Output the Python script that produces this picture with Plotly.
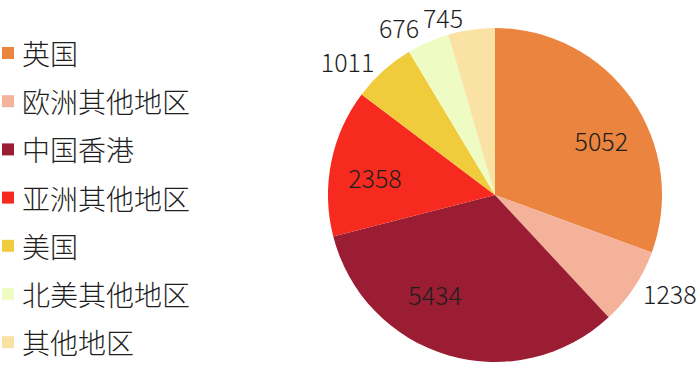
import plotly.graph_objects as go

categories = ["英国", "欧洲其他地区", "中国香港", "亚洲其他地区", "美国", "北美其他地区", "其他地区"]
values = [5052, 1238, 5434, 2358, 1011, 676, 745]
colors = ["#EB843F", "#F4B29B", "#9A1D33", "#F62A1F", "#F0CB3B", "#EEFBC3", "#FAE2A4"]
positions = ["inside", "outside", "inside", "inside", "outside", "outside", "outside"]

FONT = "Noto Sans CJK SC"
W, H = 700, 372
T, B = 28, 10
PH = H - T - B
CX, CY, R = 495, 195, 167          # pie centre / radius in pixels (layout)
R_IN = 86                          # radius of the helper pie carrying the inside labels
TOP_LABEL_INSET = 5                # keep the label near 12 o'clock inside the page


def domain(r):
    return dict(x=[(CX - r) / W, (CX + r) / W],
                y=[0.5 - r / PH, 0.5 + r / PH])


TXT = dict(family=FONT, size=25, color="#1e1e1e", weight=300)
CLEAR = ["rgba(0,0,0,0)"] * len(values)

fig = go.Figure()
# main pie (colours only)
fig.add_trace(go.Pie(
    labels=categories, values=values, sort=False, direction="clockwise", rotation=0,
    marker=dict(colors=colors, line=dict(width=0)),
    textinfo="none", showlegend=False, automargin=False, domain=domain(R),
))
# transparent smaller pie: its outside labels fall inside the big slices
fig.add_trace(go.Pie(
    labels=categories, values=values, sort=False, direction="clockwise", rotation=0,
    marker=dict(colors=CLEAR, line=dict(width=0)),
    textinfo="value",
    textposition=["outside" if p == "inside" else "none" for p in positions],
    textfont=TXT, showlegend=False, automargin=False, domain=domain(R_IN),
    hoverinfo="skip",
))
# one transparent overlay per outside label so plotly does not stack them
last_outside = max(i for i, p in enumerate(positions) if p == "outside")
for i, p in enumerate(positions):
    if p != "outside":
        continue
    r = R - TOP_LABEL_INSET if i == last_outside else R
    fig.add_trace(go.Pie(
        labels=categories, values=values, sort=False, direction="clockwise", rotation=0,
        marker=dict(colors=CLEAR, line=dict(width=0)),
        textinfo="value",
        textposition=["outside" if j == i else "none" for j in range(len(values))],
        textfont=TXT, showlegend=False, automargin=False, domain=domain(r),
        hoverinfo="skip",
    ))

# manual legend (layout positions in pixels converted to paper)
shapes, annots = [], []
y0, dy = 53, 48.2
py = lambda v: 1 - (v - T) / PH
for i, (c, col) in enumerate(zip(categories, colors)):
    yc = y0 + i * dy
    shapes.append(dict(type="rect", xref="paper", yref="paper",
                       x0=2 / W, x1=14 / W, y0=py(yc + 6), y1=py(yc - 6),
                       line=dict(width=0), fillcolor=col, layer="above"))
    annots.append(dict(text=c, xref="paper", yref="paper", x=20 / W, y=py(yc),
                       xanchor="left", yanchor="middle", showarrow=False,
                       font=dict(family=FONT, size=28, color="#1e1e1e", weight=300)))

fig.update_layout(
    width=W, height=H,
    margin=dict(l=0, r=0, t=T, b=B),
    paper_bgcolor="white", plot_bgcolor="white",
    showlegend=False,
    shapes=shapes, annotations=annots,
)
fig.write_html("out.html", config={"displayModeBar": False},
               post_script="document.body.style.margin='0';")
